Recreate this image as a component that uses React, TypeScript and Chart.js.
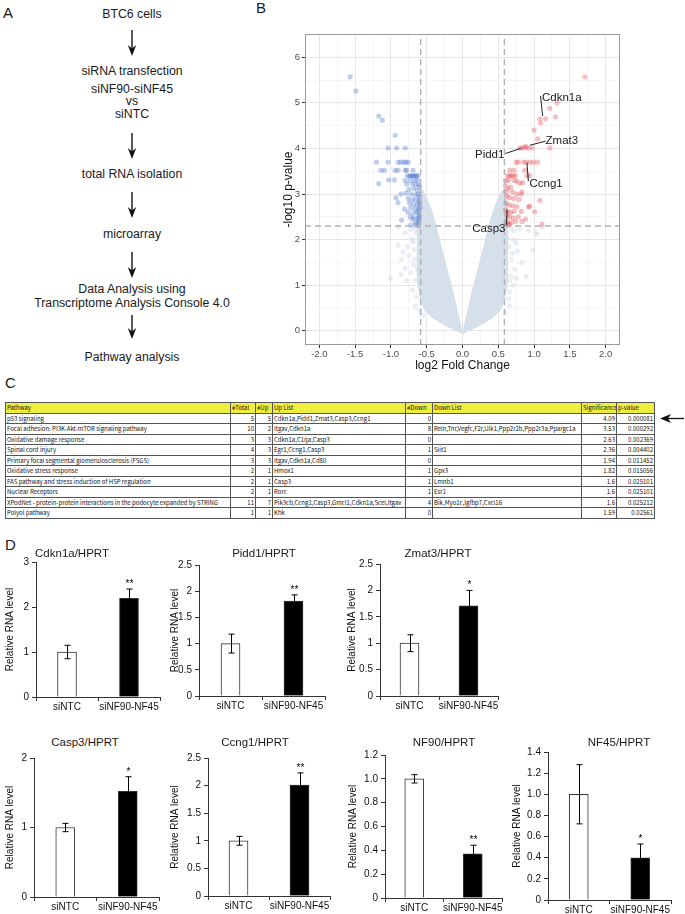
import React, { useEffect, useRef } from "react";
import { Chart, registerables } from "chart.js";

Chart.register(...registerables);
const SANS = '"Liberation Sans", Arial, Helvetica, sans-serif';
Chart.defaults.font.family = SANS;
Chart.defaults.color = "#111";

/* ---------------- Panel A: workflow text ---------------- */
const flowLines = [
  "BTC6 cells",
  "siRNA transfection",
  "siNF90-siNF45",
  "vs",
  "siNTC",
  "total RNA isolation",
  "microarray",
  "Data Analysis using",
  "Transcriptome Analysis Console 4.0",
  "Pathway analysis",
];

/* ---------------- Panel B: volcano data ---------------- */
const fcCutoff = 0.585;
const pCutoff = 2.301;
const xLimits = [-2.2, 2.2];
const yLimits = [-0.31, 6.51];
const xMajor = [-2, -1.5, -1, -0.5, 0, 0.5, 1, 1.5, 2];
const xMajorLabels = ["-2.0", "-1.5", "-1.0", "-0.5", "0.0", "0.5", "1.0", "1.5", "2.0"];
const xMinor = [-1.75, -1.25, -0.75, -0.25, 0.25, 0.75, 1.25, 1.75];
const yMajor = [0, 1, 2, 3, 4, 5, 6];
const yMajorLabels = ["0", "1", "2", "3", "4", "5", "6"];
const yMinor = [0.5, 1.5, 2.5, 3.5, 4.5, 5.5, 6.5];

// outline of the dense cloud of non-significant probes (x = log2FC, y = -log10 p)
const cloudOutline = [
  [0, -0.03], [0.02, 0.06], [0.085, 0.5], [0.16, 1.0], [0.245, 1.5], [0.325, 2.0], [0.39, 2.4],
  [0.45, 2.7], [0.51, 2.93], [0.55, 3.05], [0.58, 3.1], [0.6, 3.02], [0.615, 2.8], [0.625, 2.4],
  [0.63, 2.0], [0.63, 1.6], [0.625, 1.2], [0.61, 0.9], [0.58, 0.65], [0.52, 0.45], [0.42, 0.3],
  [0.3, 0.18], [0.18, 0.08], [0.08, 0.01], [0.03, -0.03], [0, -0.05], [-0.03, -0.03], [-0.08, 0.01],
  [-0.18, 0.08], [-0.3, 0.18], [-0.42, 0.3], [-0.52, 0.45], [-0.58, 0.65], [-0.61, 0.9],
  [-0.625, 1.2], [-0.63, 1.6], [-0.63, 2.0], [-0.625, 2.4], [-0.615, 2.8], [-0.6, 3.02],
  [-0.58, 3.1], [-0.55, 3.05], [-0.51, 2.93], [-0.45, 2.7], [-0.39, 2.4], [-0.325, 2.0],
  [-0.245, 1.5], [-0.16, 1.0], [-0.085, 0.5], [-0.02, 0.06], [0, -0.03],
];

// sparse non-significant probes outside the dense cloud
const nsPoints = [
  [-0.9, 2.29], [-0.8, 2.15], [-0.9, 1.88], [-0.83, 1.73], [-0.85, 1.57], [-0.68, 1.79], [-0.67, 1.57],
  [-0.8, 1.37], [-0.86, 1.24], [-1.01, 1.15], [-0.63, 1.35], [-0.7, 2.01], [-0.65, 2.15], [-0.73, 1.28],
  [-0.78, 1.1], [-0.66, 2.25], [-0.72, 2.22], [-0.69, 1.95], [-0.75, 1.65], [-0.66, 1.1], [-0.7, 0.9],
  [-0.64, 0.75], [-0.66, 0.55], [-0.6, 0.45], [-0.55, 0.35], [-0.68, 1.45], [-0.77, 1.85],
  [1.04, 2.12], [0.98, 1.77], [0.75, 1.93], [0.71, 2.0], [0.77, 1.75], [0.68, 1.57], [0.89, 1.19],
  [0.68, 1.2], [0.75, 1.15], [0.66, 1.1], [0.71, 1.0], [0.66, 0.55], [0.62, 2.05], [0.72, 2.2],
  [0.83, 1.5], [0.73, 1.35], [0.66, 0.85], [1.03, 2.15], [1.11, 2.28], [0.68, 2.25], [0.64, 0.7],
  [0.6, 0.4], [0.8, 2.24], [0.92, 2.2], [0.65, 1.85], [0.7, 1.7],
];

// down-regulated probes (blue)
const downPoints = [
  [-1.57, 5.57], [-1.49, 5.26], [-1.17, 4.71], [-1.12, 4.62], [-0.94, 4.29],
  [-1.04, 4.01], [-0.92, 4.01], [-0.8, 4.01],
  [-1.2, 3.7], [-1.04, 3.7], [-0.9, 3.7], [-0.86, 3.7], [-0.82, 3.7], [-0.79, 3.7], [-0.76, 3.7],
  [-1.14, 3.52], [-1.09, 3.52], [-0.94, 3.52], [-0.9, 3.52], [-0.8, 3.52], [-0.78, 3.52], [-0.69, 3.52],
  [-1.17, 3.23], [-1.03, 3.31], [-0.95, 3.31],
  [-0.77, 3.4], [-0.74, 3.4], [-0.72, 3.4], [-0.7, 3.4], [-0.68, 3.4], [-0.66, 3.4], [-0.64, 3.4], [-0.62, 3.4],
  [-0.8, 3.3], [-0.73, 3.3], [-0.67, 3.3], [-0.63, 3.3],
  [-0.78, 3.22], [-0.7, 3.22], [-0.65, 3.21], [-0.61, 3.2], [-0.6, 3.15],
  [-0.75, 3.1], [-0.68, 3.12], [-0.63, 3.08],
  [-0.86, 3.0], [-0.79, 3.02], [-0.72, 3.0], [-0.66, 2.98], [-0.62, 3.0], [-0.6, 2.95],
  [-0.93, 2.92], [-0.9, 2.81], [-0.81, 2.67], [-0.85, 2.43], [-0.7, 2.45],
  [-0.76, 2.9], [-0.7, 2.88], [-0.65, 2.88], [-0.61, 2.86],
  [-0.74, 2.8], [-0.68, 2.78], [-0.63, 2.76], [-0.6, 2.8],
  [-0.72, 2.7], [-0.66, 2.68], [-0.62, 2.66], [-0.59, 2.7],
  [-0.76, 2.6], [-0.69, 2.58], [-0.64, 2.6], [-0.61, 2.56],
  [-0.73, 2.5], [-0.67, 2.48], [-0.62, 2.46], [-0.6, 2.5],
  [-0.65, 2.38], [-0.61, 2.4], [-0.72, 2.32], [-0.66, 2.33], [-0.62, 2.31],
];

// up-regulated probes (red)
const upPoints = [
  [1.71, 5.57], [1.32, 5.0], [1.22, 4.88], [1.3, 4.69], [1.08, 4.65], [1.16, 4.65], [1.09, 4.56],
  [1.0, 4.4], [1.05, 4.21],
  [0.8, 4.01], [0.83, 4.01], [0.86, 4.03], [0.89, 4.04], [0.91, 4.01], [0.97, 4.01], [1.22, 4.01],
  [0.75, 3.7], [0.78, 3.7], [0.85, 3.7], [0.89, 3.7], [0.94, 3.7], [0.99, 3.7], [1.05, 3.7],
  [0.87, 3.52], [0.94, 3.41], [0.72, 3.52], [0.66, 3.52],
  [0.63, 3.4], [0.66, 3.4], [0.68, 3.4], [0.71, 3.4], [0.74, 3.4], [0.9, 3.4],
  [0.6, 3.3], [0.64, 3.3], [0.72, 3.3], [0.76, 3.28], [0.8, 3.23], [0.84, 3.25],
  [0.6, 3.18], [0.63, 3.12], [0.67, 3.15], [0.61, 3.05], [0.7, 3.05], [0.76, 3.0], [0.82, 3.0], [0.83, 3.05],
  [0.62, 2.95], [0.66, 2.92], [0.72, 2.9], [0.79, 2.88], [1.08, 2.86],
  [0.61, 2.8], [0.65, 2.76], [0.7, 2.74], [0.76, 2.72], [0.94, 2.73], [0.92, 2.72],
  [0.6, 2.65], [0.63, 2.62], [0.67, 2.6], [0.72, 2.62], [0.82, 2.62], [1.01, 2.61],
  [0.62, 2.52], [0.66, 2.5], [0.71, 2.48], [0.78, 2.5], [0.88, 2.45],
  [0.61, 2.4], [0.64, 2.36], [0.68, 2.38], [0.74, 2.4], [0.83, 2.4],
  [0.62, 2.32], [0.66, 2.33], [1.11, 2.34],
];

const geneNames = ["Cdkn1a", "Zmat3", "Pidd1", "Ccng1", "Casp3"];
const geneTextX = [1.11, 1.16, 0.585, 0.935, 0.6];
const geneTextY = [5.1, 4.16, 3.87, 3.23, 2.23];
const geneTextAlign = ["left", "left", "right", "left", "right"];
const geneLeaderFrom = [[1.09, 5.15], [1.16, 4.16], [0.6, 3.89], [0.9, 3.69], [0.625, 2.65]];
const geneLeaderTo = [[1.12, 4.71], [0.94, 4.07], [0.81, 4.0], [0.92, 3.28], [0.61, 2.3]];

/* ---------------- Panel C: pathway table ---------------- */
const tableHeaders = ["Pathway", "#Total", "#Up", "Up List", "#Down", "Down List", "Significance", "p-value"];
const pathways = [
  "p53 signaling",
  "Focal adhesion: PI3K-Akt-mTOR signaling pathway",
  "Oxidative damage response",
  "Spinal cord injury",
  "Primary focal segmental glomerulosclerosis (FSGS)",
  "Oxidative stress response",
  "FAS pathway and stress induction of HSP regulation",
  "Nuclear Receptors",
  "XPodNet - protein-protein interactions in the podocyte expanded by STRING",
  "Polyol pathway",
];
const totals = [5, 10, 3, 4, 3, 2, 2, 2, 11, 1];
const ups = [5, 2, 3, 3, 3, 1, 1, 1, 7, 1];
const upLists = [
  "Cdkn1a,Pidd1,Zmat3,Casp3,Ccng1", "Itgav,Cdkn1a", "Cdkn1a,C1qa,Casp3", "Egr1,Ccng1,Casp3",
  "Itgav,Cdkn1a,Cd80", "Hmox1", "Casp3", "Rorc", "Pik3cb,Ccng1,Casp3,Gmcl1,Cdkn1a,Scel,Itgav", "Khk",
];
const downs = [0, 8, 0, 1, 0, 1, 1, 1, 4, 0];
const downLists = [
  "", "Reln,Tnr,Vegfc,F2r,Ulk1,Ppp2r2b,Ppp2r3a,Ppargc1a", "", "Slit1", "", "Gpx3", "Lmnb1", "Esr1",
  "Bik,Myo1c,Igfbp7,Cxcl16", "",
];
const significance = ["4.09", "3.53", "2.63", "2.36", "1.94", "1.82", "1.6", "1.6", "1.6", "1.59"];
const pValues = ["0.000081", "0.000292", "0.002369", "0.004402", "0.011452", "0.015056", "0.025101", "0.025101", "0.025212", "0.02561"];

/* ---------------- Panel D: qPCR data ---------------- */
const barGroups = ["siNTC", "siNF90-NF45"];
const geneTitles = ["Cdkn1a/HPRT", "Pidd1/HPRT", "Zmat3/HPRT", "Casp3/HPRT", "Ccng1/HPRT", "NF90/HPRT", "NF45/HPRT"];
const ntcMean = [1.0, 1.0, 1.0, 1.0, 1.0, 1.0, 1.0];
const ntcErr = [0.15, 0.18, 0.16, 0.06, 0.08, 0.035, 0.28];
const kdMean = [2.19, 1.81, 1.71, 1.52, 2.01, 0.37, 0.4];
const kdErr = [0.21, 0.12, 0.29, 0.21, 0.22, 0.073, 0.13];
const kdSig = ["**", "**", "*", "*", "**", "**", "*"];
const yMaxes = [3, 2.5, 2.5, 2, 2.5, 1.2, 1.4];
const yTickValues = [
  [0, 1, 2, 3],
  [0, 0.5, 1, 1.5, 2, 2.5],
  [0, 0.5, 1, 1.5, 2, 2.5],
  [0, 1, 2],
  [0, 0.5, 1, 1.5, 2, 2.5],
  [0, 0.2, 0.4, 0.6, 0.8, 1.0, 1.2],
  [0, 0.2, 0.4, 0.6, 0.8, 1.0, 1.2, 1.4],
];
const yTickLabels = [
  ["0", "1", "2", "3"],
  ["0", "0.5", "1", "1.5", "2", "2.5"],
  ["0", "0.5", "1", "1.5", "2", "2.5"],
  ["0", "1", "2"],
  ["0", "0.5", "1", "1.5", "2", "2.5"],
  ["0", "0.2", "0.4", "0.6", "0.8", "1.0", "1.2"],
  ["0", "0.2", "0.4", "0.6", "0.8", "1.0", "1.2", "1.4"],
];

/* ---------------- layout (positions only) ---------------- */
const barLayouts = [
  { L: 36, R: 160, T: 562, B: 697, yTitleX: 10, titleX: 72, titleY: 554 },
  { L: 199, R: 325, T: 565, B: 696, yTitleX: 175, titleX: 264, titleY: 554 },
  { L: 380, R: 498, T: 564, B: 696, yTitleX: 352, titleX: 438, titleY: 554 },
  { L: 34, R: 159, T: 758, B: 897, yTitleX: 10, titleX: 85, titleY: 743 },
  { L: 208, R: 330, T: 758, B: 896, yTitleX: 175, titleX: 255, titleY: 743 },
  { L: 385, R: 502, T: 755, B: 898, yTitleX: 353, titleX: 444, titleY: 743 },
  { L: 548, R: 671, T: 752, B: 900, yTitleX: 517, titleX: 619, titleY: 743 },
];
const flowY = [15, 72, 90, 102, 115, 175, 235, 290, 303.5, 358];
const flowArrows = [[30, 56], [133, 159], [192, 218], [252, 278], [315, 339]];

function Txt({ x, y, size, align = "center", children, color = "#1a1a1a", family = SANS }: any) {
  const tx = align === "center" ? "-50%" : align === "right" ? "-100%" : "0";
  return (
    <div
      style={{
        position: "absolute",
        left: x,
        top: y - size * 0.55,
        fontSize: size,
        lineHeight: `${size}px`,
        whiteSpace: "nowrap",
        transform: `translateX(${tx})`,
        fontFamily: family,
        color,
      }}
    >
      {children}
    </div>
  );
}

const panelBorder = {
  id: "panelBorder",
  afterDraw(chart: any) {
    const { ctx, chartArea } = chart;
    ctx.save();
    ctx.strokeStyle = "#9a9a9a";
    ctx.lineWidth = 1;
    ctx.strokeRect(chartArea.left + 0.5, chartArea.top + 0.5, chartArea.right - chartArea.left - 1, chartArea.bottom - chartArea.top - 1);
    ctx.restore();
  },
};

const geneLabelPlugin = {
  id: "geneLabels",
  afterDatasetsDraw(chart: any) {
    const { ctx, scales } = chart;
    ctx.save();
    ctx.font = `11.5px ${SANS}`;
    ctx.fillStyle = "#1a1a1a";
    ctx.textBaseline = "middle";
    geneNames.forEach((name, i) => {
      ctx.textAlign = geneTextAlign[i];
      ctx.fillText(name, scales.x.getPixelForValue(geneTextX[i]), scales.y.getPixelForValue(geneTextY[i]));
    });
    ctx.restore();
  },
};

const toXY = (arr: number[][]) => arr.map((p) => ({ x: p[0], y: p[1] }));

function Volcano() {
  const ref = useRef<HTMLCanvasElement>(null);
  const left = 281, top = 24, leftW = 24, plotW = 315, plotH = 311;
  const W = leftW + plotW + 10, H = 10 + plotH + 28;
  useEffect(() => {
    const dashed = (pts: number[][]) => ({
      data: toXY(pts), showLine: true, borderColor: "#aeb0b8", borderWidth: 1.4, borderDash: [6, 4],
      pointRadius: 0, fill: false,
    });
    const leaders = geneNames.map((_, i) => ({
      data: toXY([geneLeaderFrom[i], geneLeaderTo[i]]), showLine: true, borderColor: "#222", borderWidth: 1,
      pointRadius: 0, fill: false,
    }));
    const xTicksAll = [...xMajor, ...xMinor].sort((a, b) => a - b);
    const yTicksAll = [...yMajor, ...yMinor].sort((a, b) => a - b);
    const chart = new Chart(ref.current as HTMLCanvasElement, {
      type: "scatter",
      data: {
        datasets: [
          dashed([[-fcCutoff, yLimits[0]], [-fcCutoff, yLimits[1]]]),
          dashed([[fcCutoff, yLimits[0]], [fcCutoff, yLimits[1]]]),
          dashed([[xLimits[0], pCutoff], [xLimits[1], pCutoff]]),
          ...leaders,
          { data: toXY(upPoints), pointRadius: 2.6, pointBorderWidth: 0, backgroundColor: "rgba(228,60,66,0.32)" },
          { data: toXY(downPoints), pointRadius: 2.6, pointBorderWidth: 0, backgroundColor: "rgba(50,95,195,0.3)" },
          { data: toXY(nsPoints), pointRadius: 2.6, pointBorderWidth: 0, backgroundColor: "rgba(205,216,230,0.4)" },
          {
            data: toXY(cloudOutline), showLine: true, pointRadius: 0, fill: "shape",
            backgroundColor: "#d6e0ea", borderColor: "#d6e0ea", borderWidth: 1.5, tension: 0,
          },
        ] as any,
      },
      options: {
        responsive: false,
        animation: false,
        events: [],
        layout: { padding: { top: 10, right: 10, left: 0, bottom: 0 } },
        plugins: { legend: { display: false }, tooltip: { enabled: false } },
        scales: {
          x: {
            type: "linear",
            min: xLimits[0],
            max: xLimits[1],
            afterBuildTicks: (s: any) => { s.ticks = xTicksAll.map((v) => ({ value: v })); },
            afterFit: (s: any) => { s.height = 28; },
            ticks: {
              autoSkip: false, maxRotation: 0, padding: 1, color: "#4d4d4d", font: { size: 9.5, family: SANS },
              callback: (v: any) => { const k = xMajor.indexOf(v); return k >= 0 ? xMajorLabels[k] : ""; },
            },
            grid: {
              color: (c: any) => (xMajor.includes(c.tick?.value) ? "#e6e6ea" : "#f2f2f4"),
              lineWidth: (c: any) => (xMajor.includes(c.tick?.value) ? 1 : 0.7),
              tickColor: (c: any) => (xMajor.includes(c.tick?.value) ? "#333" : "rgba(0,0,0,0)"),
              tickLength: 3,
            },
            border: { display: false },
            title: { display: true, text: "log2 Fold Change", color: "#111", font: { size: 12, family: SANS }, padding: 0 },
          },
          y: {
            type: "linear",
            min: yLimits[0],
            max: yLimits[1],
            afterBuildTicks: (s: any) => { s.ticks = yTicksAll.map((v) => ({ value: v })); },
            afterFit: (s: any) => { s.width = leftW; },
            ticks: {
              autoSkip: false, padding: 2, color: "#4d4d4d", font: { size: 9.5, family: SANS },
              callback: (v: any) => { const k = yMajor.indexOf(v); return k >= 0 ? yMajorLabels[k] : ""; },
            },
            grid: {
              color: (c: any) => (yMajor.includes(c.tick?.value) ? "#e6e6ea" : "#f2f2f4"),
              lineWidth: (c: any) => (yMajor.includes(c.tick?.value) ? 1 : 0.7),
              tickColor: (c: any) => (yMajor.includes(c.tick?.value) ? "#333" : "rgba(0,0,0,0)"),
              tickLength: 3,
            },
            border: { display: false },
            title: { display: true, text: "-log10 p-value", color: "#111", font: { size: 12, family: SANS }, padding: 0 },
          },
        },
      } as any,
      plugins: [panelBorder, geneLabelPlugin],
    });
    return () => chart.destroy();
  }, []);
  return <canvas ref={ref} width={W} height={H} style={{ position: "absolute", left, top }} />;
}

const errorBarPlugin = {
  id: "errorBars",
  afterDatasetsDraw(chart: any, _args: any, opts: any) {
    const { ctx } = chart;
    const meta = chart.getDatasetMeta(0);
    const ys = chart.scales.y;
    ctx.save();
    ctx.strokeStyle = "#000";
    ctx.lineWidth = 1;
    opts.means.forEach((m: number, i: number) => {
      const x = Math.round(meta.data[i].x) + 0.5;
      const yt = ys.getPixelForValue(m + opts.errs[i]);
      const yb = ys.getPixelForValue(m - opts.errs[i]);
      ctx.beginPath();
      ctx.moveTo(x, yt);
      ctx.lineTo(x, yb);
      ctx.moveTo(x - 3, yt);
      ctx.lineTo(x + 3, yt);
      ctx.moveTo(x - 3, yb);
      ctx.lineTo(x + 3, yb);
      ctx.stroke();
      if (opts.sig[i]) {
        ctx.fillStyle = "#000";
        ctx.font = `10px ${SANS}`;
        ctx.textAlign = "center";
        ctx.textBaseline = "alphabetic";
        ctx.fillText(opts.sig[i], x, yt - 2);
      }
    });
    ctx.restore();
  },
};

function BarPanel({ idx }: { idx: number }) {
  const ref = useRef<HTMLCanvasElement>(null);
  const lay = barLayouts[idx];
  const left = Math.round(lay.yTitleX - 6);
  const top = lay.T - 10;
  const leftW = lay.L - left;
  const plotW = lay.R - lay.L;
  const plotH = lay.B - lay.T;
  const W = leftW + plotW + 12;
  const H = 10 + plotH + 22;
  useEffect(() => {
    const chart = new Chart(ref.current as HTMLCanvasElement, {
      type: "bar",
      data: {
        labels: barGroups,
        datasets: [
          {
            data: [ntcMean[idx], kdMean[idx]],
            backgroundColor: ["#ffffff", "#000000"],
            borderColor: "#333",
            borderWidth: 1,
            barThickness: 19,
          },
        ],
      },
      options: {
        responsive: false,
        animation: false,
        events: [],
        layout: { padding: { top: 10, right: 12, left: 0, bottom: 0 } },
        plugins: {
          legend: { display: false },
          tooltip: { enabled: false },
          errorBars: { means: [ntcMean[idx], kdMean[idx]], errs: [ntcErr[idx], kdErr[idx]], sig: ["", kdSig[idx]] },
        },
        scales: {
          x: {
            afterFit: (s: any) => { s.height = 22; },
            grid: { display: true, drawOnChartArea: false, offset: true, tickLength: 4, color: "#333", tickColor: "#333" },
            border: { color: "#333" },
            ticks: { autoSkip: false, font: { size: 10, family: SANS }, color: "#111", padding: 0, maxRotation: 0, minRotation: 0 },
          },
          y: {
            min: 0,
            max: yMaxes[idx],
            afterBuildTicks: (s: any) => { s.ticks = yTickValues[idx].map((v) => ({ value: v })); },
            afterFit: (s: any) => { s.width = leftW; },
            ticks: {
              autoSkip: false, font: { size: 10, family: SANS }, color: "#111", padding: 3,
              callback: (_v: any, i: number) => yTickLabels[idx][i],
            },
            grid: { drawOnChartArea: false, tickLength: 4, tickColor: "#333" },
            border: { color: "#333" },
            title: { display: true, text: "Relative RNA level", font: { size: 10, family: SANS }, color: "#111", padding: 0 },
          },
        },
      } as any,
      plugins: [errorBarPlugin],
    });
    return () => chart.destroy();
  }, []);
  return (
    <>
      <canvas ref={ref} width={W} height={H} style={{ position: "absolute", left, top }} />
      <Txt x={lay.titleX} y={lay.titleY} size={11.5}>{geneTitles[idx]}</Txt>
    </>
  );
}

function PathwayTable() {
  const colW = [225, 25, 17, 133, 27, 149, 35, 38];
  const cell: any = {
    border: "1px solid #555",
    padding: "0 1px",
    height: 9.5,
    lineHeight: "9px",
    whiteSpace: "nowrap",
    overflow: "hidden",
    fontWeight: 400,
  };
  const num = { ...cell, textAlign: "right" };
  return (
    <table
      style={{
        position: "absolute",
        left: 5,
        top: 402,
        width: 649,
        borderCollapse: "collapse",
        tableLayout: "fixed",
        fontFamily: '"Noto Sans CJK JP", "Noto Sans", sans-serif',
        fontSize: 6,
        color: "#111",
      }}
    >
      <colgroup>
        {colW.map((w, i) => (
          <col key={i} style={{ width: w }} />
        ))}
      </colgroup>
      <thead>
        <tr>
          {tableHeaders.map((h) => (
            <th key={h} style={{ ...cell, background: "#efed3e", textAlign: "left" }}>{h}</th>
          ))}
        </tr>
      </thead>
      <tbody>
        {pathways.map((p, i) => (
          <tr key={p}>
            <td style={cell}>{p}</td>
            <td style={num}>{totals[i]}</td>
            <td style={num}>{ups[i]}</td>
            <td style={cell}>{upLists[i]}</td>
            <td style={num}>{downs[i]}</td>
            <td style={cell}>{downLists[i]}</td>
            <td style={num}>{significance[i]}</td>
            <td style={num}>{pValues[i]}</td>
          </tr>
        ))}
      </tbody>
    </table>
  );
}

export default function App() {
  return (
    <div style={{ position: "absolute", left: 0, top: 0, width: 685, height: 914, background: "#fff", overflow: "hidden" }}>
      {/* panel letters */}
      <Txt x={3} y={13} size={15} align="left">A</Txt>
      <Txt x={256} y={8} size={15} align="left">B</Txt>
      <Txt x={5} y={383} size={15} align="left">C</Txt>
      <Txt x={5} y={545} size={15} align="left">D</Txt>

      {/* Panel A */}
      {flowLines.map((t, i) => (
        <Txt key={t} x={132} y={flowY[i]} size={12.3}>{t}</Txt>
      ))}
      <svg width={685} height={914} style={{ position: "absolute", left: 0, top: 0 }}>
        {flowArrows.map(([y1, y2], i) => (
          <g key={i}>
            <line x1={132} y1={y1} x2={132} y2={y2 - 6} stroke="#111" strokeWidth={1.4} />
            <path d={`M132 ${y2} L127.8 ${y2 - 11} L132 ${y2 - 7.5} L136.2 ${y2 - 11} Z`} fill="#111" />
          </g>
        ))}
        <line x1={684} y1={418.5} x2={666} y2={418.5} stroke="#111" strokeWidth={1.3} />
        <path d="M660 418.5 L671 414 L668 418.5 L671 423 Z" fill="#111" />
      </svg>

      {/* Panel B */}
      <Volcano />

      {/* Panel C */}
      <PathwayTable />

      {/* Panel D */}
      {barLayouts.map((_, i) => (
        <BarPanel key={i} idx={i} />
      ))}
    </div>
  );
}
